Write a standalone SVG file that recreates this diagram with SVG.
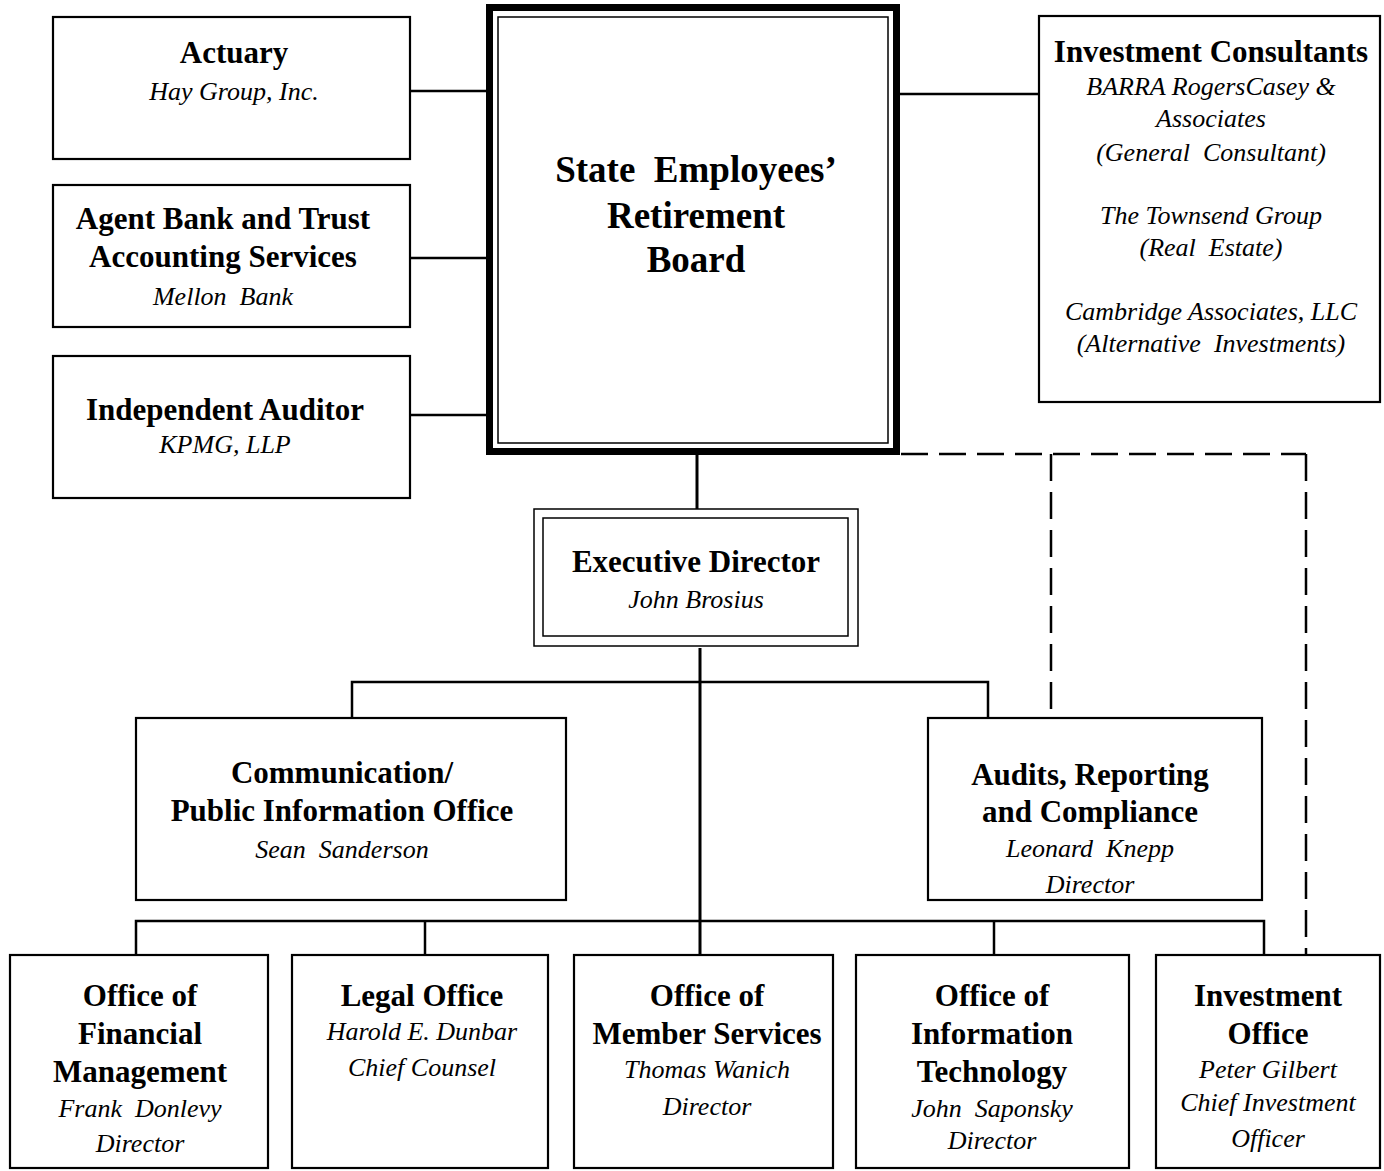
<svg xmlns="http://www.w3.org/2000/svg" width="1384" height="1171" viewBox="0 0 1384 1171">
<style>
.box{fill:#fff;stroke:#000;stroke-width:2.2}
.thin{fill:none;stroke:#000;stroke-width:1.5}
.ln{fill:none;stroke:#000;stroke-width:2.5}
.dash{fill:none;stroke:#000;stroke-width:2.5;stroke-dasharray:27 11}
text{white-space:pre}
.b{font-family:"Liberation Serif","Times New Roman",serif;font-weight:bold;font-size:31px;text-anchor:middle;fill:#000}
.i{font-family:"Liberation Serif","Times New Roman",serif;font-style:italic;font-size:26px;text-anchor:middle;fill:#000}
.big{font-family:"Liberation Serif","Times New Roman",serif;font-weight:bold;font-size:37px;text-anchor:middle;fill:#000}
</style>
<rect width="1384" height="1171" fill="#fff"/>
<g id="connectors">
<line class="ln" x1="410" y1="91" x2="486" y2="91"/>
<line class="ln" x1="410" y1="258" x2="486" y2="258"/>
<line class="ln" x1="410" y1="415" x2="486" y2="415"/>
<line class="ln" x1="900" y1="94" x2="1039" y2="94"/>
<line x1="697" y1="455" x2="697" y2="509" stroke="#000" stroke-width="3"/>
<line x1="700" y1="648" x2="700" y2="955" stroke="#000" stroke-width="3"/>
<polyline class="ln" points="352,717 352,682 988,682 988,717"/>
<polyline class="ln" points="136,955 136,921 1264,921 1264,955"/>
<line class="ln" x1="425" y1="921" x2="425" y2="955"/>
<line class="ln" x1="994" y1="921" x2="994" y2="955"/>
<line class="dash" x1="901" y1="454" x2="1306" y2="454"/>
<line class="dash" x1="1051" y1="454" x2="1051" y2="717"/>
<line class="dash" x1="1306" y1="454" x2="1306" y2="955"/>
</g>
<g id="board">
<rect x="489.5" y="7.5" width="407" height="444" fill="#fff" stroke="#000" stroke-width="7"/>
<rect class="thin" x="498" y="17" width="390" height="426"/>
<text class="big" x="696" y="182">State  Employees’</text>
<text class="big" x="696" y="228">Retirement</text>
<text class="big" x="696" y="272">Board</text>
</g>
<g id="actuary">
<rect class="box" x="53" y="17" width="357" height="142"/>
<text class="b" x="234" y="63">Actuary</text>
<text class="i" x="234" y="100">Hay Group, Inc.</text>
</g>
<g id="agent-bank">
<rect class="box" x="53" y="185" width="357" height="142"/>
<text class="b" x="223" y="229">Agent Bank and Trust</text>
<text class="b" x="223" y="267">Accounting Services</text>
<text class="i" x="223" y="305">Mellon  Bank</text>
</g>
<g id="auditor">
<rect class="box" x="53" y="356" width="357" height="142"/>
<text class="b" x="225" y="420">Independent Auditor</text>
<text class="i" x="225" y="453">KPMG, LLP</text>
</g>
<g id="investment-consultants">
<rect class="box" x="1039" y="16" width="341" height="386"/>
<text class="b" x="1211" y="62">Investment Consultants</text>
<text class="i" x="1211" y="95">BARRA RogersCasey &amp;</text>
<text class="i" x="1211" y="127">Associates</text>
<text class="i" x="1211" y="161">(General  Consultant)</text>
<text class="i" x="1211" y="224">The Townsend Group</text>
<text class="i" x="1211" y="256">(Real  Estate)</text>
<text class="i" x="1211" y="320">Cambridge Associates, LLC</text>
<text class="i" x="1211" y="352">(Alternative  Investments)</text>
</g>
<g id="executive-director">
<rect class="thin" x="534" y="509" width="324" height="137" fill="#fff"/>
<rect class="thin" x="543" y="518" width="305" height="118"/>
<text class="b" x="696" y="572">Executive Director</text>
<text class="i" x="696" y="608">John Brosius</text>
</g>
<g id="communication">
<rect class="box" x="136" y="718" width="430" height="182"/>
<text class="b" x="342" y="783">Communication/</text>
<text class="b" x="342" y="821">Public Information Office</text>
<text class="i" x="342" y="858">Sean  Sanderson</text>
</g>
<g id="audits">
<rect class="box" x="928" y="718" width="334" height="182"/>
<text class="b" x="1090" y="785">Audits, Reporting</text>
<text class="b" x="1090" y="822">and Compliance</text>
<text class="i" x="1090" y="857">Leonard  Knepp</text>
<text class="i" x="1090" y="893">Director</text>
</g>
<g id="financial">
<rect class="box" x="10" y="955" width="258" height="213"/>
<text class="b" x="140" y="1006">Office of</text>
<text class="b" x="140" y="1044">Financial</text>
<text class="b" x="140" y="1082">Management</text>
<text class="i" x="140" y="1117">Frank  Donlevy</text>
<text class="i" x="140" y="1152">Director</text>
</g>
<g id="legal">
<rect class="box" x="292" y="955" width="256" height="213"/>
<text class="b" x="422" y="1006">Legal Office</text>
<text class="i" x="422" y="1040">Harold E. Dunbar</text>
<text class="i" x="422" y="1076">Chief Counsel</text>
</g>
<g id="member-services">
<rect class="box" x="574" y="955" width="259" height="213"/>
<text class="b" x="707" y="1006">Office of</text>
<text class="b" x="707" y="1044">Member Services</text>
<text class="i" x="707" y="1078">Thomas Wanich</text>
<text class="i" x="707" y="1115">Director</text>
</g>
<g id="information-technology">
<rect class="box" x="856" y="955" width="273" height="213"/>
<text class="b" x="992" y="1006">Office of</text>
<text class="b" x="992" y="1044">Information</text>
<text class="b" x="992" y="1082">Technology</text>
<text class="i" x="992" y="1117">John  Saponsky</text>
<text class="i" x="992" y="1149">Director</text>
</g>
<g id="investment-office">
<rect class="box" x="1156" y="955" width="224" height="213"/>
<text class="b" x="1268" y="1006">Investment</text>
<text class="b" x="1268" y="1044">Office</text>
<text class="i" x="1268" y="1078">Peter Gilbert</text>
<text class="i" x="1268" y="1111">Chief Investment</text>
<text class="i" x="1268" y="1147">Officer</text>
</g>
</svg>
